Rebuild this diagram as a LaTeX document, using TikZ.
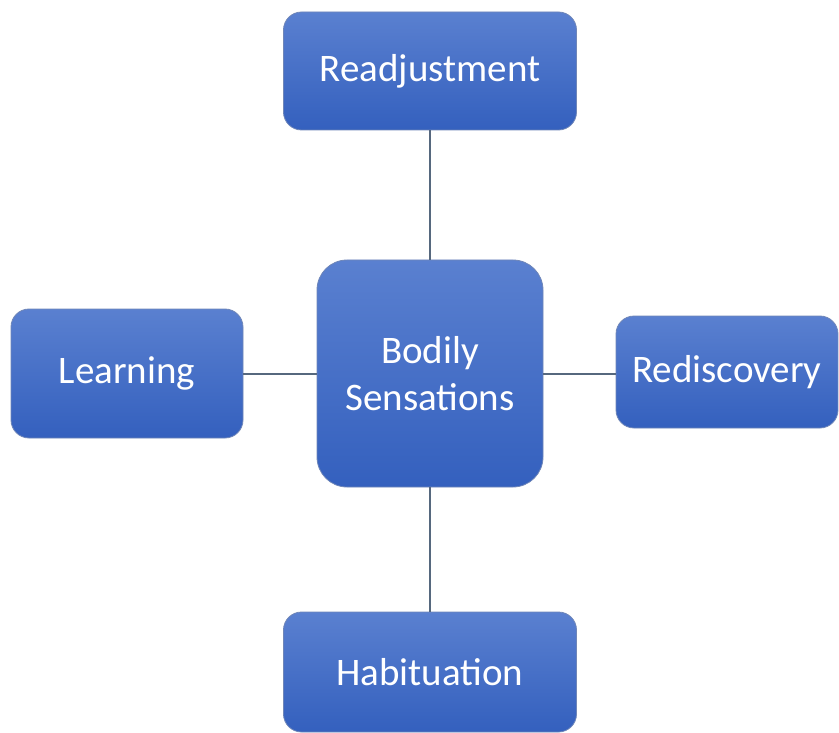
\documentclass[tikz,border=0pt]{standalone}
\usepackage{fontspec}
\setmainfont{Carlito}
\begin{document}
\begin{tikzpicture}[x=1pt,y=-1pt,
  box/.style={draw=boxedge,line width=0.8pt,rounded corners=18pt,
    top color=boxtop,bottom color=boxbot,text=white,
    font=\fontsize{39}{47}\selectfont,align=center,inner sep=0pt},
  link/.style={draw=linkgray,line width=2pt}]
\definecolor{boxtop}{HTML}{5A80D0}
\definecolor{boxbot}{HTML}{3460BE}
\definecolor{boxedge}{HTML}{6F86B8}
\definecolor{linkgray}{HTML}{56687E}
\useasboundingbox (0,0) rectangle (839,733);
\node[box,minimum width=293pt,minimum height=118pt] (readj) at (430,71) {Readjustment};
\node[box,minimum width=226pt,minimum height=227pt,rounded corners=30pt] (body) at (430,373.5) {Bodily\\Sensations};
\node[box,minimum width=232pt,minimum height=129pt] (learn) at (127,373.5) {Learning};
\node[box,minimum width=222pt,minimum height=112pt] (redis) at (727,372) {Rediscovery};
\node[box,minimum width=293pt,minimum height=120pt] (habit) at (430,672) {Habituation};
\draw[link] (readj.south) -- (body.north);
\draw[link] (learn.east) -- (body.west);
\draw[link] (body.east) -- (body.east -| redis.west);
\draw[link] (body.south) -- (habit.north);
\end{tikzpicture}
\end{document}
